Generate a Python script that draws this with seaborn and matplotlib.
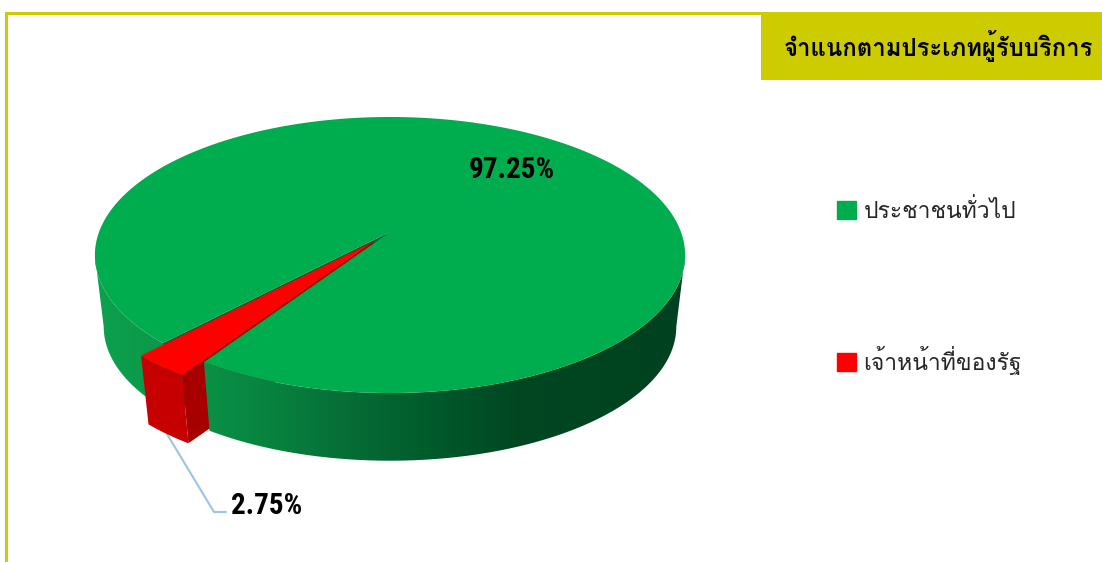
import numpy as np
import matplotlib
matplotlib.use("Agg")
import matplotlib.pyplot as plt
from matplotlib.patches import Patch, Polygon, Rectangle
import seaborn as sns

# data
categories = ["ประชาชนทั่วไป", "เจ้าหน้าที่ของรัฐ"]
shares = [97.25, 2.75]
title = "จำแนกตามประเภทผู้รับบริการ"

sns.set_theme(style="white")
plt.rcParams["font.family"] = ["Loma", "Noto Sans Thai Looped", "DejaVu Sans"]
NUM_FONT = ["Roboto Condensed", "Roboto", "DejaVu Sans"]

W, H = 1102, 562
OLIVE = "#cccc00"
GREEN = "#00ad4e"
RED = "#ff0000"
colors = sns.color_palette([GREEN, RED])

# perspective of the pie, in pixels
CX, CY = 390, 232
BX, BY, K = 291, 134.2, 1 / 6
BASE_SCALE, BASE_Y = 0.97, 304.5
SILHOUETTE = 9.6  # angle where the top ellipse is widest


def project(u, v, base=False):
    # u, v on the unit disc, v is towards the viewer
    d = 1 - K * v
    x, y = BX * u / d, BY * v / d
    if base:
        return CX + x * BASE_SCALE, BASE_Y + y * BASE_SCALE
    return CX + x, CY + y


def arc(w, t1, t2, base=False):
    t = np.radians(np.linspace(t1, t2, 200))
    cx, cy = w.center
    return np.column_stack(project(cx + w.r * np.cos(t), -(cy + w.r * np.sin(t)), base))


def point(w, base=False):
    return np.array([project(w.center[0], -w.center[1], base)])


fig = plt.figure(figsize=(W / 100, H / 100), dpi=100)
ax = fig.add_axes([0, 0, 1, 1])

# pie works out the wedge angles and the explode offset
wedges, _ = ax.pie(shares, colors=colors, startangle=-123.4, explode=[0, 0.09])
green, red = wedges
angles = [(w.theta1, w.theta2) for w in wedges]
for w in wedges:
    w.set_visible(False)

ax.set(xlim=(0, W), ylim=(H, 0), aspect="auto")
ax.axis("off")

# frame and title box
ax.add_patch(Rectangle((5, 13), 2.5, H, color=OLIVE, lw=0))
ax.add_patch(Rectangle((5, 12), 760, 2.5, color=OLIVE, lw=0))
ax.add_patch(Rectangle((761, 12), W - 761, 68, color=OLIVE, lw=0))
ax.text(938, 46, title, ha="center", va="center", fontsize=17.2, fontweight="bold", color="black")

side_cmap = sns.blend_palette(
    ["#0ca14f", "#0a9648", "#08843f", "#066d36", "#015a2b", "#004722", "#004420", "#00421f"],
    as_cmap=True,
)


def gradient_face(points, cmap, zorder):
    poly = Polygon(points, transform=ax.transData, fc="none", ec="none")
    ax.add_patch(poly)
    x0, x1 = points[:, 0].min(), points[:, 0].max()
    grad = (np.linspace(x0, x1, 256) - 95) / (685 - 95)
    im = ax.imshow(grad[None, :], extent=(x0, x1, points[:, 1].max(), points[:, 1].min()),
                   cmap=cmap, vmin=0, vmax=1, aspect="auto", zorder=zorder, interpolation="bilinear")
    im.set_clip_path(poly)


def rim(w, t1, t2):
    return np.vstack([arc(w, t1, t2), arc(w, t1, t2, base=True)[::-1]])


def cut(w, angle):
    top = arc(w, angle, angle)[-1:]
    bottom = arc(w, angle, angle, base=True)[-1:]
    return np.vstack([point(w), top, bottom, point(w, True)])


g1, g2 = angles[0]
r1, r2 = angles[1]

# green rim left of the gap, then the wall inside the gap
gradient_face(rim(green, 180 + SILHOUETTE, g2), side_cmap, 2)
ax.add_patch(Polygon(cut(green, g2), fc="#0a5a30", ec="none", zorder=3))

# exploded red slice
ax.add_patch(Polygon(cut(red, r2), fc="#a80000", ec="none", zorder=4))
ax.add_patch(Polygon(rim(red, r1, r2), fc="#c60000", ec="none", zorder=5))
ax.add_patch(Polygon(np.vstack([point(red), arc(red, r1, r2)]), fc=colors[1], ec="none", zorder=6))

# green rim right of the gap and the top
gradient_face(rim(green, g1, -SILHOUETTE), side_cmap, 7)
ax.add_patch(Polygon(np.vstack([point(green), arc(green, g1, g2)]), fc=colors[0], ec="none", zorder=8))

ax.set(xlim=(0, W), ylim=(H, 0))

# labels
ax.text(512, 170, f"{shares[0]:.2f}%", ha="center", va="center", fontsize=21, fontweight="bold",
        family=NUM_FONT, color="black", zorder=9)
ax.plot([167, 214, 226], [434, 512, 512], color="#9dc3e6", lw=1.5, zorder=3.5)
ax.text(267, 506, f"{shares[1]:.2f}%", ha="center", va="center", fontsize=21, fontweight="bold",
        family=NUM_FONT, color="black", zorder=9)

# legend
handles = [Patch(color=c, label=n) for c, n in zip(colors, categories)]
ax.legend(handles=handles, loc="upper left", bbox_to_anchor=(837 / W, 1 - 199 / H), frameon=False,
          fontsize=16.5, labelcolor="#262626", handlelength=0.83, handleheight=0.83, handletextpad=0.33,
          labelspacing=5.35, borderpad=0, borderaxespad=0)

fig.savefig("out.png", dpi=100)
